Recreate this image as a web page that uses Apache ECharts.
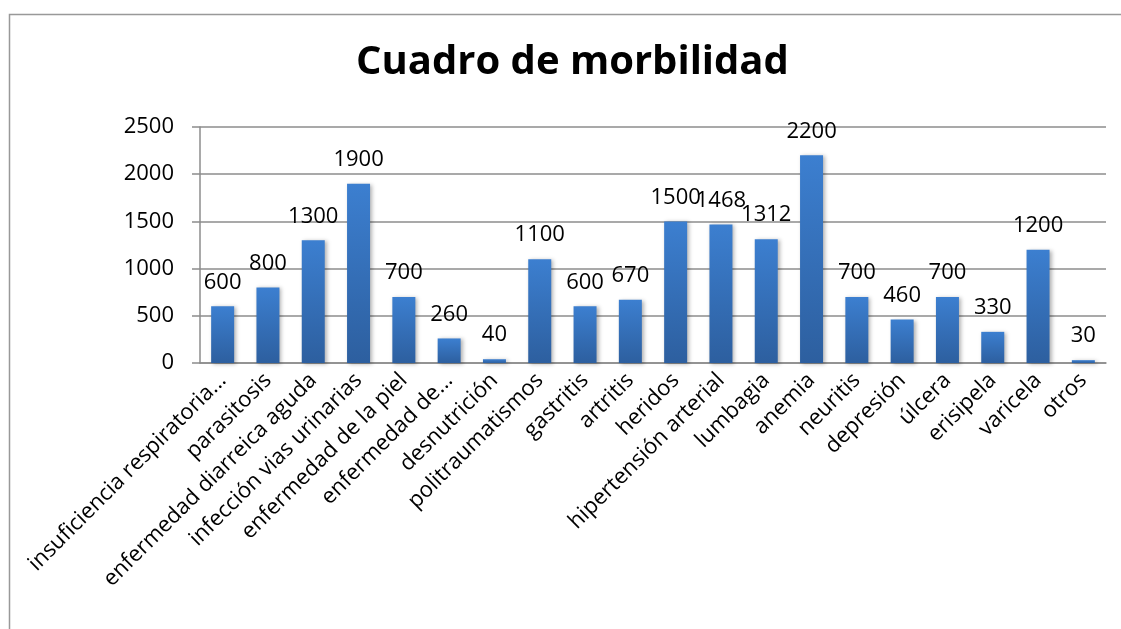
<!DOCTYPE html>
<html>
<head>
<meta charset="utf-8">
<title>Cuadro de morbilidad</title>
<script src="https://cdn.jsdelivr.net/npm/echarts@6/dist/echarts.min.js"></script>
<style>
    html, body { margin: 0; padding: 0; background: #fff; overflow: hidden; }
    #chart { width: 1121px; height: 629px; }
</style>
</head>
<body>
<div id="chart"></div>
<script>
    // datos
    var categorias = ['insuficiencia respiratoria...', 'parasitosis', 'enfermedad diarreica aguda',
        'infección vias urinarias', 'enfermedad de la piel', 'enfermedad de...', 'desnutrición',
        'politraumatismos', 'gastritis', 'artritis', 'heridos', 'hipertensión arterial', 'lumbagia',
        'anemia', 'neuritis', 'depresión', 'úlcera', 'erisipela', 'varicela', 'otros'];
    var casos = [600, 800, 1300, 1900, 700, 260, 40, 1100, 600, 670, 1500, 1468, 1312, 2200, 700, 460, 700, 330, 1200, 30];
    var ticksY = [0, 500, 1000, 1500, 2000, 2500];

    var fuente = '"Open Sans", "DejaVu Sans", sans-serif';
    var chart = echarts.init(document.getElementById('chart'));

    var option = {
        animation: false,
        textStyle: { fontFamily: fuente },
        title: {
            text: 'Cuadro de morbilidad',
            left: 351,
            top: 38,
            textStyle: { fontSize: 40, fontWeight: 'bold', color: '#000', fontFamily: fuente }
        },
        graphic: [{
            type: 'polyline',
            shape: { points: [[9.5, 640], [9.5, 14.5], [1130, 14.5]] },
            style: { fill: null, stroke: '#999', lineWidth: 1.5 },
            silent: true
        }],
        grid: { left: 200, right: 15, top: 127, bottom: 266 },
        xAxis: {
            type: 'category',
            data: categorias,
            axisLine: { lineStyle: { color: '#8c8c8c', width: 1.5 } },
            axisTick: { length: 8, lineStyle: { color: '#8c8c8c', width: 1.5 } },
            axisLabel: { rotate: 45, fontSize: 22, color: '#000', margin: 14, interval: 0 }
        },
        yAxis: {
            type: 'value',
            min: ticksY[0],
            max: ticksY[ticksY.length - 1],
            interval: 500,
            axisLine: { show: true, lineStyle: { color: '#8c8c8c', width: 1.5 } },
            axisTick: { show: true, length: 8, lineStyle: { color: '#8c8c8c', width: 1.5 } },
            axisLabel: { fontSize: 22, color: '#000', margin: 26, formatter: function (v) { return String(v); } },
            splitLine: { lineStyle: { color: '#8c8c8c', width: 1.5 } }
        },
        series: [{
            type: 'bar',
            data: casos,
            barWidth: 23,
            itemStyle: {
                color: new echarts.graphic.LinearGradient(0, 0, 0, 1, [
                    { offset: 0, color: '#3c7fd0' },
                    { offset: 1, color: '#2d5f9f' }
                ]),
                shadowBlur: 4,
                shadowOffsetX: 2,
                shadowOffsetY: 1,
                shadowColor: 'rgba(0,0,0,0.3)'
            },
            label: {
                show: true,
                position: 'top',
                distance: 13,
                fontSize: 22,
                color: '#000'
            }
        }]
    };

    chart.setOption(option);
</script>
</body>
</html>
